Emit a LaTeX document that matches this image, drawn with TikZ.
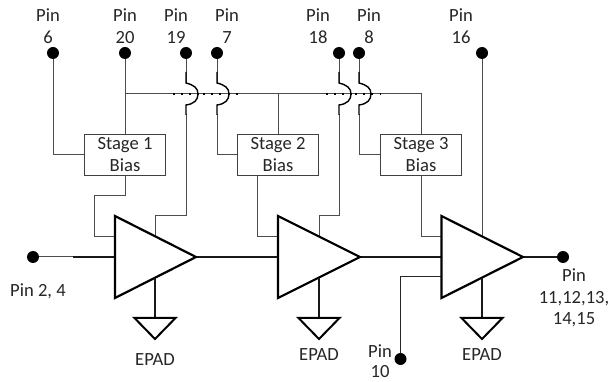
\documentclass[tikz,border=0pt]{standalone}
\usepackage{fontspec}
\setmainfont{Carlito}
\tikzset{
  pindot/.style={circle,fill=black,draw=none,minimum size=12pt,inner sep=0pt},
  txt/.style={inner sep=0pt,anchor=base,font=\fontsize{18.6}{20}\selectfont,text=black!85},
  biasbox/.style={draw=black!75,line width=1pt,fill=white,minimum width=81.5pt,minimum height=40.5pt,inner sep=0pt},
  wire/.style={draw=black!70,line width=1pt},
  wirebk/.style={draw=black!90,line width=1.1pt},
  jump/.style={draw=black,line width=1.4pt},
  dots/.style={draw=black,line width=2pt,dash pattern=on 2pt off 6.2pt},
  amp/.style={draw=black,line width=2.2pt,fill=white,line join=miter},
  gnd/.style={draw=black,line width=2pt,line join=miter}
}
\begin{document}
\begin{tikzpicture}[x=1pt,y=-1pt]
\useasboundingbox (0,0) rectangle (611,382);
% pins
\node[pindot] (p6) at (53,53) {};
\node[pindot] (p20) at (125,53) {};
\node[pindot] (p19) at (186,53) {};
\node[pindot] (p7) at (217,53) {};
\node[pindot] (p18) at (339,53) {};
\node[pindot] (p8) at (359,53) {};
\node[pindot] (p16) at (482,53) {};
\node[pindot] (pin) at (33,257) {};
\node[pindot] (pout) at (563,257) {};
\node[pindot] (p10) at (400.5,359) {};
% boxes
\node[biasbox] (s1) at (125,155) {};
\node[biasbox] (s2) at (278,155) {};
\node[biasbox] (s3) at (421,155) {};
\node[txt] (s1a) at (125,150) {Stage 1};
\node[txt] (s1b) at (125,172) {Bias};
\node[txt] (s2a) at (278,150) {Stage 2};
\node[txt] (s2b) at (278,172) {Bias};
\node[txt] (s3a) at (421,150) {Stage 3};
\node[txt] (s3b) at (421,172) {Bias};
% coordinates
\coordinate (a1) at (115,216); \coordinate (b1) at (115,298); \coordinate (t1) at (196,257);
\coordinate (a2) at (278,216); \coordinate (b2) at (278,298); \coordinate (t2) at (360,257);
\coordinate (a3) at (441.5,216); \coordinate (b3) at (441.5,298); \coordinate (t3) at (523,257);
% bias wiring
\draw[wire] (p6) |- (s1.west);
\draw[wire] (p20) -- (s1.north);
\draw[wire] (125,94) -| (s3.north);
\draw[wire] (278,94) -- (s2.north);
\path (s2.south) ++(-21,0) coordinate (s2o);
\draw[wire] (s1.south) -- (125,196) -- (94,196) |- (115,236.5);
\draw[wire] (s2o) |- (278,236.5);
\draw[wire] (s3.south) |- (441.5,236.5);
\draw[wire] (p7) -- (217,83);
\draw[wire] (217,114) |- (s2.west);
\draw[wire] (p8) -- (359,83);
\draw[wire] (359,114) |- (s3.west);
\draw[wire] (p19) -- (186,83);
\draw[wire] (186,114) |- (155,216) -- (155,237);
\draw[wire] (p18) -- (339,83);
\draw[wire] (339,114) |- (319,216) -- (319,237);
\draw[wire] (p16) -- (482,237);
% jumps
\draw[dots] (173,94) -- (198,94);
\draw[dots] (203,94) -- (240,94);
\draw[dots] (326,94) -- (352,94);
\draw[dots] (355,94) -- (381,94);
\foreach \x/\n in {186/j1,217/j2,339/j3,359/j4}{
  \coordinate (\n) at (\x,94);
  \draw[jump] (\n) ++(0,-22) -- ++(0,11) .. controls (\x+8,85) and (\x+12,88) .. (\x+12,94) .. controls (\x+12,100) and (\x+8,104) .. (\x,105) -- (\x,115);
}
% signal path
\draw[wire] (pin) -- (73,257);
\draw[wirebk] (73,257) -- (115,257);
\draw[wirebk] (t1) -- (278,257);
\draw[wirebk] (t2) -- (441.5,257);
\draw[wirebk] (t3) -- (pout);
\draw[wire,draw=black!85] (p10) |- (441.5,277);
% amps
\draw[amp] (a1) -- (b1) -- (t1) -- cycle;
\draw[amp] (a2) -- (b2) -- (t2) -- cycle;
\draw[amp] (a3) -- (b3) -- (t3) -- cycle;
% grounds
\foreach \x in {155,319,482}{
  \draw[wirebk] (\x,278) -- (\x,318);
  \draw[gnd] (\x-20.5,318) -- (\x+20.5,318) -- (\x,339) -- cycle;
}
% labels
\foreach \x/\b/\t in {48/6/6a,125/20/20a,176/19/19a,227/7/7a,318/18/18a,369/8/8a,461/16/16a}{
  \node[txt] (l\t) at (\x,22) {Pin};
  \node[txt] (m\t) at (\x,44) {\b};
}
\node[txt] (lin) at (38,297) {Pin 2, 4};
\node[txt] (e1) at (155,365) {EPAD};
\node[txt] (e2) at (319,360) {EPAD};
\node[txt] (e3) at (482,360) {EPAD};
\node[txt] (l10a) at (380,358) {Pin};
\node[txt] (l10b) at (380,377.5) {10};
\node[txt] (oa) at (574,282) {Pin};
\node[txt] (ob) at (574,304) {11,12,13,};
\node[txt] (oc) at (574,325) {14,15};
\end{tikzpicture}
\end{document}
